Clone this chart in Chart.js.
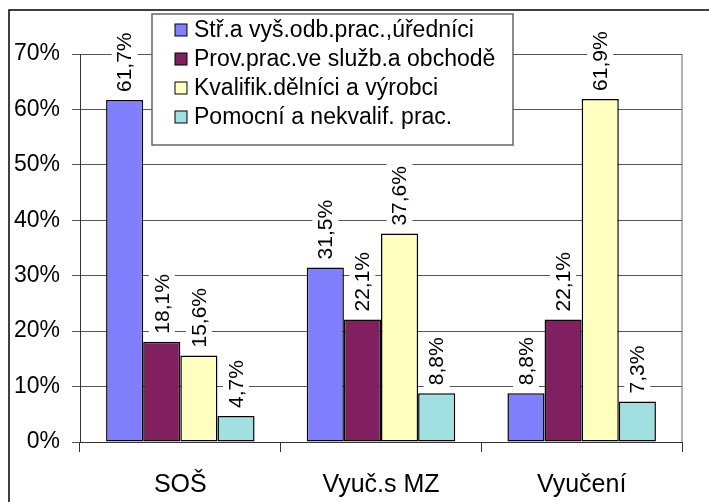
<!DOCTYPE html>
<html>
<head>
<meta charset="utf-8">
<script src="https://cdn.jsdelivr.net/npm/chart.js@4.4.1/dist/chart.umd.min.js"></script>
<style>
  body { margin: 0; background: #fff; }
  #wrap { width: 709px; height: 502px; position: relative; }
</style>
</head>
<body>
<div id="wrap"><canvas id="eduChart" width="709" height="502"></canvas></div>
<script>
// chart data
const categories = ["SOŠ", "Vyuč.s MZ", "Vyučení"];
const seriesNames = [
    "Stř.a vyš.odb.prac.,úředníci",
    "Prov.prac.ve služb.a obchodě",
    "Kvalifik.dělníci a výrobci",
    "Pomocní a nekvalif. prac."
];
const officeWorkers = [61.7, 31.5, 8.8];
const serviceWorkers = [18.1, 22.1, 22.1];
const skilledWorkers = [15.6, 37.6, 61.9];
const unskilledWorkers = [4.7, 8.8, 7.3];
const yTicks = [0, 10, 20, 30, 40, 50, 60, 70];

const fillColors = ['#8080FF', '#802060', '#FFFFC0', '#A0E0E0'];
const FONT = "'Liberation Sans', Arial, sans-serif";

const fmt = v => v.toFixed(1).replace('.', ',') + '%';

// outer frame (left + top edge visible)
const framePlugin = {
    id: 'frame',
    beforeDraw(chart) {
        const c = chart.ctx;
        c.save();
        c.strokeStyle = '#000';
        c.lineWidth = 1.5;
        c.beginPath();
        c.moveTo(9, chart.height + 5);
        c.lineTo(9, 10);
        c.lineTo(chart.width + 5, 10);
        c.stroke();
        c.restore();
    },
    afterDatasetsDraw(chart) {
        // right border of plot area
        const a = chart.chartArea;
        const c = chart.ctx;
        c.save();
        c.strokeStyle = '#666';
        c.lineWidth = 1;
        c.beginPath();
        c.moveTo(a.right, a.top);
        c.lineTo(a.right, a.bottom);
        c.stroke();
        c.restore();
    }
};

// vertical value labels with white background
const valueLabels = {
    id: 'valueLabels',
    afterDatasetsDraw(chart) {
        const c = chart.ctx;
        c.save();
        c.font = '21px ' + FONT;
        chart.data.datasets.forEach((ds, i) => {
            chart.getDatasetMeta(i).data.forEach((bar, j) => {
                const txt = fmt(ds.data[j]);
                const w = c.measureText(txt).width;
                c.save();
                c.translate(bar.x, bar.y - 8);
                c.rotate(-Math.PI / 2);
                c.fillStyle = '#fff';
                c.fillRect(-2, -13, w + 4, 26);
                c.fillStyle = '#000';
                c.textAlign = 'left';
                c.textBaseline = 'middle';
                c.fillText(txt, 0, 1);
                c.restore();
            });
        });
        c.restore();
    }
};

// boxed legend drawn over the plot
const boxLegend = {
    id: 'boxLegend',
    afterDraw(chart) {
        const c = chart.ctx;
        const a = chart.chartArea;
        const x = a.left + 72, y = 14, w = 361, h = 131;
        c.save();
        c.fillStyle = '#fff';
        c.fillRect(x, y, w, h);
        c.strokeStyle = '#666';
        c.lineWidth = 1.5;
        c.strokeRect(x, y, w, h);
        c.font = '23px ' + FONT;
        c.textBaseline = 'middle';
        chart.data.datasets.forEach((ds, i) => {
            const cy = y + 16 + i * 29;
            c.fillStyle = ds.backgroundColor;
            c.fillRect(x + 23, cy - 6, 12, 12);
            c.strokeStyle = '#000';
            c.lineWidth = 1;
            c.strokeRect(x + 23, cy - 6, 12, 12);
            c.fillStyle = '#000';
            c.fillText(ds.label, x + 42, cy + 1);
        });
        c.restore();
    }
};

const seriesData = [officeWorkers, serviceWorkers, skilledWorkers, unskilledWorkers];

const config = {
    type: 'bar',
    data: {
        labels: categories,
        datasets: seriesNames.map((name, i) => ({
            label: name,
            data: seriesData[i],
            backgroundColor: fillColors[i],
            borderColor: '#000',
            borderWidth: 1.5,
            borderSkipped: false,
            categoryPercentage: 0.74,
            barPercentage: 1
        }))
    },
    options: {
        responsive: false,
        animation: false,
        devicePixelRatio: 1,
        layout: { padding: { top: 54, right: 27, left: 0, bottom: 0 } },
        plugins: {
            legend: { display: false },
            tooltip: { enabled: false }
        },
        scales: {
            y: {
                min: 0,
                max: 70,
                afterBuildTicks: s => { s.ticks = yTicks.map(v => ({ value: v })); },
                afterFit: s => { s.width = 80; },
                grid: { color: '#555', lineWidth: 1, tickLength: 8 },
                border: { color: '#333', width: 1 },
                ticks: {
                    color: '#000',
                    padding: 12,
                    font: { family: FONT, size: 23 },
                    callback: v => v + '%'
                }
            },
            x: {
                afterFit: s => { s.height = 60; },
                grid: { drawOnChartArea: false, color: '#333', tickLength: 10 },
                border: { color: '#333', width: 1 },
                ticks: {
                    color: '#000',
                    padding: 18,
                    font: { family: FONT, size: 25 }
                }
            }
        }
    },
    plugins: [framePlugin, valueLabels, boxLegend]
};

const eduChart = new Chart(document.getElementById('eduChart'), config);
</script>
</body>
</html>
